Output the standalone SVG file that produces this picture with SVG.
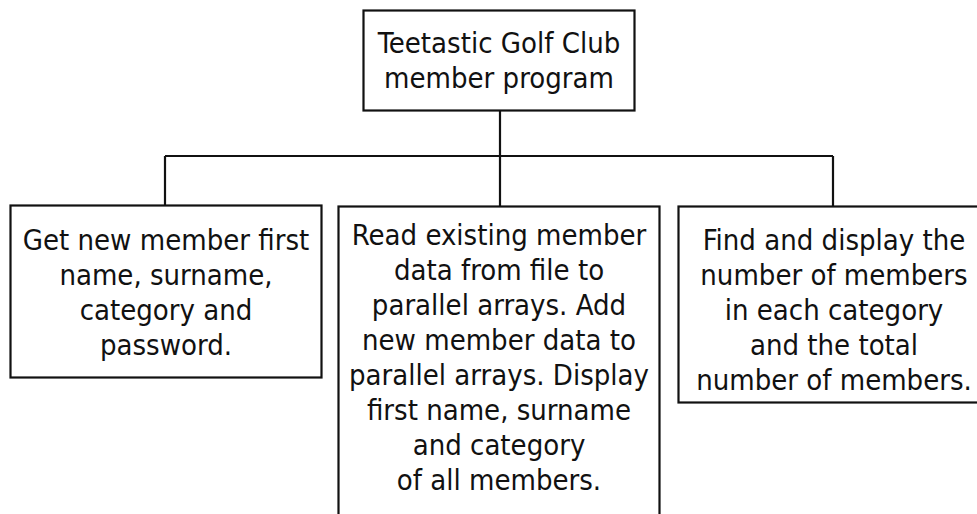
<svg xmlns="http://www.w3.org/2000/svg" width="977" height="514" viewBox="0 0 977 514">
<style>
.box{fill:#fff;stroke:#111;stroke-width:2.2}
.conn{fill:none;stroke:#111;stroke-width:2.2}
text{font-family:"DejaVu Sans",sans-serif;font-stretch:condensed;font-size:29px;fill:#111;text-anchor:middle}
</style>
<rect width="977" height="514" fill="#fff"/>
<g id="connectors">
<path class="conn" d="M500 110 V206 M165 156 H833 M165 156 V205 M833 156 V206"/>
</g>
<g id="root">
<rect class="box" x="363.5" y="10.5" width="271" height="100"/>
<text x="499" y="53">Teetastic Golf Club</text>
<text x="499" y="88">member program</text>
</g>
<g id="get-member">
<rect class="box" x="10.5" y="205.5" width="311" height="172"/>
<text x="166" y="250">Get new member first</text>
<text x="166" y="285">name, surname,</text>
<text x="166" y="320">category and</text>
<text x="166" y="355">password.</text>
</g>
<g id="read-data">
<rect class="box" x="338.5" y="206.5" width="321" height="320"/>
<text x="499" y="245">Read existing member</text>
<text x="499" y="280">data from file to</text>
<text x="499" y="315">parallel arrays. Add</text>
<text x="499" y="350">new member data to</text>
<text x="499" y="385">parallel arrays. Display</text>
<text x="499" y="420">first name, surname</text>
<text x="499" y="455">and category</text>
<text x="499" y="490">of all members.</text>
</g>
<g id="count-members">
<rect class="box" x="678.5" y="206.5" width="320" height="196"/>
<text x="834" y="250">Find and display the</text>
<text x="834" y="285">number of members</text>
<text x="834" y="320">in each category</text>
<text x="834" y="355">and the total</text>
<text x="834" y="390">number of members.</text>
</g>
</svg>
